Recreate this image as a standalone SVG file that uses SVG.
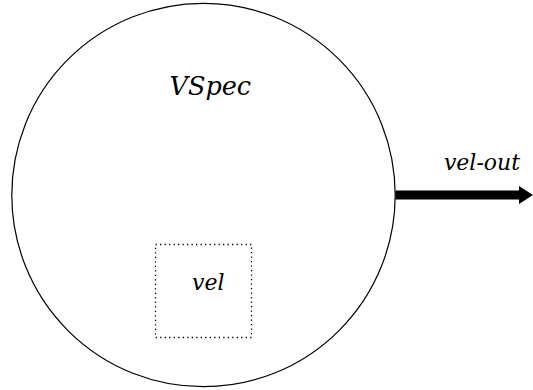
<svg xmlns="http://www.w3.org/2000/svg" width="533" height="390" viewBox="0 0 533 390">
<style>
.t{font-family:"DejaVu Serif","Liberation Serif","Times New Roman",serif;font-style:italic;fill:#000}
</style>
<rect width="533" height="390" fill="#fff"/>
<g id="VSpec">
<circle cx="203.5" cy="195" r="191.7" fill="none" stroke="#000" stroke-width="1.2"/>
<text class="t" x="210.3" y="95" font-size="25.5" text-anchor="middle">VSpec</text>
</g>
<g id="vel">
<rect x="155.5" y="244.5" width="96" height="93" fill="none" stroke="#000" stroke-width="1.3" stroke-dasharray="1.3,3.2"/>
<text class="t" x="208.3" y="290" font-size="22" text-anchor="middle">vel</text>
</g>
<g id="connectors">
<line x1="395.5" y1="195" x2="521" y2="195" stroke="#000" stroke-width="9"/>
<path d="M519,186 L533,195 L519,204 Z" fill="#000"/>
<text class="t" x="482" y="170" font-size="22" text-anchor="middle">vel-out</text>
</g>
</svg>
